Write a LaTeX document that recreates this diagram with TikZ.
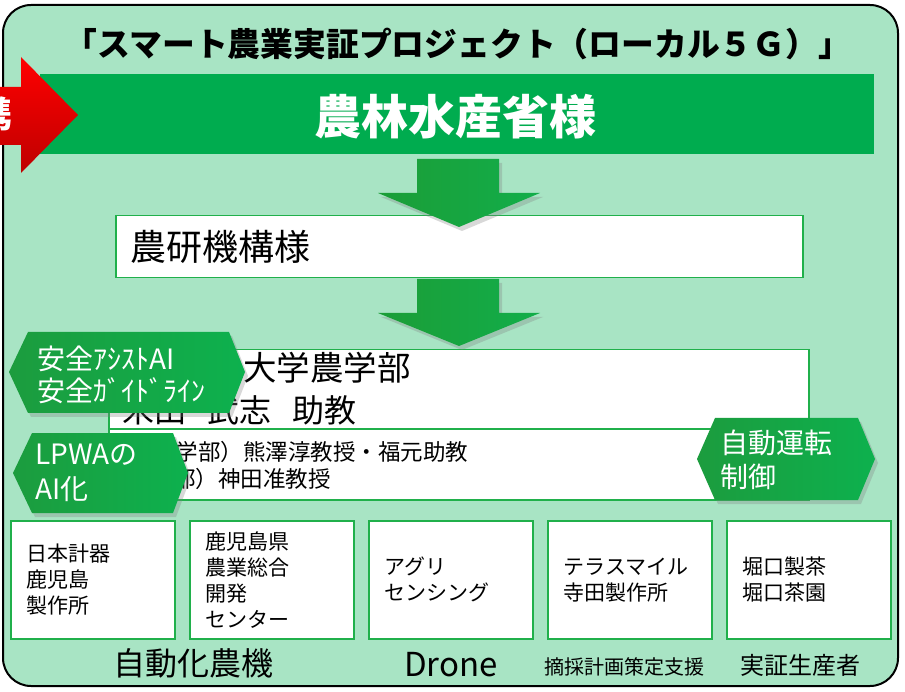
\documentclass[tikz,border=0pt]{standalone}
\usepackage{fontspec}
\setmainfont{Noto Sans CJK JP}
\usepackage{tikz}
\usetikzlibrary{calc}
\usetikzlibrary{shadows}

\definecolor{bggreen}{HTML}{A8E4C4}
\definecolor{bannergreen}{HTML}{00AC4F}
\definecolor{boxgreen}{HTML}{20B04B}
\definecolor{arrowleft}{HTML}{1B9D37}
\definecolor{arrowright}{HTML}{12AE4A}
\definecolor{hexleft}{HTML}{1C9C3E}
\definecolor{hexright}{HTML}{0DB14E}
\definecolor{redtop}{HTML}{FF0000}
\definecolor{redbot}{HTML}{BE0000}

\begin{document}
\begin{tikzpicture}[x=1pt,y=-1pt,
    box/.style={draw=boxgreen,line width=1.5pt,fill=white,inner xsep=16pt,inner ysep=0pt,align=left},
    arrowfill/.style={left color=arrowleft,right color=arrowright,drop shadow={shadow xshift=3pt,shadow yshift=-4pt,opacity=.3}},
    hexfill/.style={left color=hexleft,right color=hexright,drop shadow={shadow xshift=3pt,shadow yshift=-4pt,opacity=.3}},
    hextext/.style={text=white,align=left,inner sep=0pt,anchor=west}]
        \useasboundingbox (0,0) rectangle (905,692);

        %frame
        \draw[line width=2pt,fill=bggreen,rounded corners=28pt] (3,5) rectangle (898,686);

        %title
        \node[font=\bfseries\fontsize{32.8}{36}\selectfont] (title) at (458,44) {「スマート農業実証プロジェクト（ローカル５Ｇ）」};

        %ministry banner
        \fill[bannergreen] (40,74) rectangle (874,154);
        \node[text=white,font=\bfseries\fontsize{47}{50}\selectfont] (maff) at (455,117) {農林水産省様};

        %red arrow on the left
        \path[top color=redtop,bottom color=redbot] (-10,87) -- (21,87) -- (21,57) -- (78,115) -- (21,173) -- (21,145) -- (-10,145) -- cycle;
        \node[text=white,anchor=east,inner sep=0pt,font=\bfseries\fontsize{36}{40}\selectfont] (renkei) at (13,114) {携};

        %naro
        \node[box,anchor=north west,minimum width=687pt,minimum height=62pt,text width=657pt,inner xsep=15pt,font=\fontsize{36}{40}\selectfont] (naro) at (115,215) {農研機構様};

        %university boxes
        \node[box,anchor=north west,minimum width=700pt,minimum height=79pt] (uni) at (108,349) {};
        \node[box,anchor=north west,minimum width=700pt,minimum height=71pt] (staff) at (108,428) {};
        \node[anchor=west,inner sep=0pt,font=\fontsize{33.5}{36}\selectfont] (uniname) at (243,368) {大学農学部};
        \node[anchor=west,inner sep=0pt,font=\fontsize{32}{36}\selectfont] (prof) at (122,410) {米田\hspace{21pt}武志\hspace{21pt}助教};
        \node[anchor=west,inner sep=0pt,font=\fontsize{22.5}{26}\selectfont] (agri) at (175.5,452) {学部）熊澤淳教授・福元助教};
        \node[anchor=west,inner sep=0pt,font=\fontsize{22.5}{26}\selectfont] (eng) at (173,479) {部）神田准教授};

        %down arrows
        \foreach \ya/\yb/\yc in {159/193/227, 279/313/346}{
            \path[arrowfill] (417,\ya) -- (499,\ya) -- (499,\yb) -- (540,\yb) -- (459,\yc) -- (378,\yb) -- (417,\yb) -- cycle;
        }

        %partner boxes
        \foreach \x/\name/\txt in {10/nikkei/{日本計器\\鹿児島\\製作所},
                                  189/center/{鹿児島県\\農業総合\\開発\\センター},
                                  368/sensing/{アグリ\\センシング},
                                  547/terra/{テラスマイル\\寺田製作所},
                                  726/horiguchi/{堀口製茶\\堀口茶園}}{
            \node[box,anchor=north west,minimum width=164pt,minimum height=118pt,text width=132pt,font=\fontsize{21}{26}\selectfont] (\name) at (\x,520) {\txt};
        }

        %labels below
        \node[font=\fontsize{32}{36}\selectfont] (machine) at (193,663) {自動化農機};
        \node[font=\fontsize{33}{36}\selectfont] (drone) at (451,665) {Drone};
        \node[font=\fontsize{20}{24}\selectfont] (plan) at (624,667) {摘採計画策定支援};
        \node[font=\fontsize{24}{28}\selectfont] (farmer) at (800,665) {実証生産者};

        %hexagon tags
        \path[hexfill] (9,372) -- (28,332) -- (229,332) -- (245,372) -- (229,413) -- (28,413) -- cycle;
        \node[hextext,font=\fontsize{28}{32}\selectfont] (safety) at (37,375) {安全ｱｼｽﾄAI\\安全ｶﾞｲﾄﾞﾗｲﾝ};

        \path[hexfill] (13,473) -- (32,433) -- (173,433) -- (188,473) -- (173,513) -- (32,513) -- cycle;
        \node[hextext,font=\fontsize{28}{35}\selectfont] (lpwa) at (35,473) {LPWAの\\AI化};

        \path[hexfill] (697,459) -- (715,418) -- (858,418) -- (875,459) -- (858,500) -- (715,500) -- cycle;
        \node[hextext,font=\fontsize{28}{34}\selectfont] (drive) at (720,460) {自動運転\\制御};

\end{tikzpicture}
\end{document}
